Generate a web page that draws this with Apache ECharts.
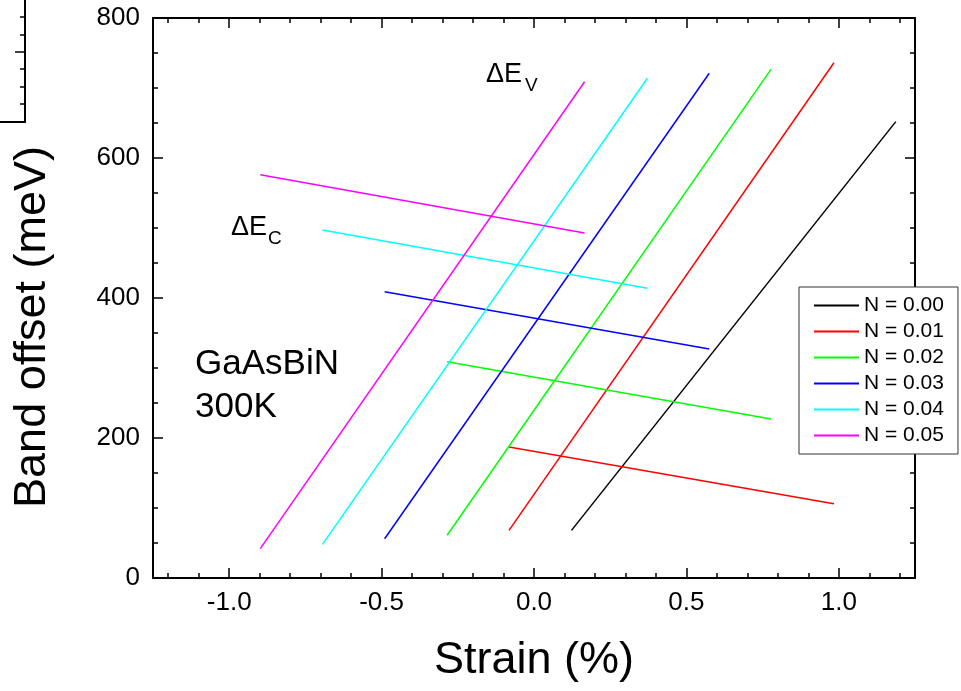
<!DOCTYPE html>
<html>
<head>
<meta charset="utf-8">
<script src="https://cdn.jsdelivr.net/npm/echarts@6/dist/echarts.min.js"></script>
<style>
  html, body { margin: 0; padding: 0; background: #fff; }
  #chart { width: 961px; height: 691px; }
</style>
</head>
<body>
<div id="chart"></div>
<script>
var myChart = echarts.init(document.getElementById('chart'));

// N content of each curve pair
var nLabels = ['N = 0.00', 'N = 0.01', 'N = 0.02', 'N = 0.03', 'N = 0.04', 'N = 0.05'];
var lineColors = ['#000000', '#ff0000', '#00ff00', '#0000ff', '#00ffff', '#ff00ff'];

// strain (%) at both ends of every line
var strainLow = [0.123, -0.082, -0.285, -0.49, -0.694, -0.898];
var strainHigh = [1.187, 0.984, 0.778, 0.575, 0.372, 0.166];

// valence band offset (meV)
var evLow = [68, 68, 61, 56, 48, 42];
var evHigh = [652, 736, 727, 721, 714, 709];

// conduction band offset (meV), no curve for N = 0.00
var ecLow = [null, 187, 309, 409, 497, 576];
var ecHigh = [null, 106, 227, 327, 414, 493];

var FONT = 'Liberation Sans, Arial, sans-serif';
var black = '#000';

var series = [];
for (var i = 0; i < nLabels.length; i++) {
  series.push({
    name: nLabels[i],
    type: 'line',
    symbol: 'none',
    color: lineColors[i],
    lineStyle: { width: 1.5, color: lineColors[i] },
    data: [[strainLow[i], evLow[i]], [strainHigh[i], evHigh[i]]]
  });
  if (ecLow[i] !== null) {
    series.push({
      name: nLabels[i],
      type: 'line',
      symbol: 'none',
      color: lineColors[i],
      lineStyle: { width: 1.5, color: lineColors[i] },
      data: [[strainLow[i], ecLow[i]], [strainHigh[i], ecHigh[i]]]
    });
  }
}

function xAx(pos, minor, main) {
  return {
    type: 'value',
    gridIndex: 0,
    position: pos,
    min: -1.25,
    max: 1.25,
    splitNumber: minor ? 25 : 5,
    axisLine: { show: !minor, onZero: false, lineStyle: { color: black, width: 2 } },
    axisTick: { inside: true, length: minor ? 5 : 10, lineStyle: { color: black, width: 1.5 } },
    axisLabel: main ? {
      showMinLabel: false,
      showMaxLabel: false,
      formatter: function (v) { return v.toFixed(1); },
      fontSize: 26,
      fontFamily: FONT,
      color: black,
      margin: 12
    } : { show: false },
    splitLine: { show: false },
    name: main ? 'Strain (%)' : '',
    nameLocation: 'middle',
    nameGap: 60,
    nameTextStyle: { fontSize: 45, fontFamily: FONT, color: black }
  };
}

function yAx(pos, main) {
  return {
    type: 'value',
    gridIndex: 0,
    position: pos,
    min: 0,
    max: 800,
    interval: 200,
    axisLine: { show: true, onZero: false, lineStyle: { color: black, width: 2 } },
    axisTick: { inside: true, length: 10, lineStyle: { color: black, width: 1.5 } },
    minorTick: { show: true, splitNumber: 4, length: 5, lineStyle: { color: black, width: 1.5 } },
    axisLabel: main ? { fontSize: 26, fontFamily: FONT, color: black, margin: 13 } : { show: false },
    splitLine: { show: false }
  };
}

var option = {
  backgroundColor: '#fff',
  animation: false,
  grid: { left: 153, top: 18, width: 762, height: 560 },
  legend: {
    data: nLabels,
    orient: 'vertical',
    left: 799,
    top: 287,
    padding: [8, 14, 8, 15],
    itemGap: 5,
    itemWidth: 45,
    itemHeight: 2,
    icon: 'rect',
    backgroundColor: '#fff',
    borderColor: '#333',
    borderWidth: 1,
    textStyle: { fontSize: 21, lineHeight: 20, fontFamily: FONT, color: black }
  },
  xAxis: [xAx('bottom', false, true), xAx('bottom', true, false), xAx('top', false, false), xAx('top', true, false)],
  yAxis: [yAx('left', true), yAx('right', false)],
  graphic: [
    { type: 'text', x: 33, y: 327, rotation: Math.PI / 2,
      style: { text: 'Band offset (meV)', fontSize: 45, fontFamily: FONT, fill: black, align: 'center', verticalAlign: 'middle' } },
    { type: 'text', left: 486, top: 61, style: { text: 'ΔE', fontSize: 27, fontFamily: FONT, fill: black } },
    { type: 'text', left: 525, top: 76, style: { text: 'V', fontSize: 19, fontFamily: FONT, fill: black } },
    { type: 'text', left: 231, top: 214, style: { text: 'ΔE', fontSize: 27, fontFamily: FONT, fill: black } },
    { type: 'text', left: 268, top: 229, style: { text: 'C', fontSize: 19, fontFamily: FONT, fill: black } },
    { type: 'text', left: 195, top: 343, style: { text: 'GaAsBiN\n300K', fontSize: 35, lineHeight: 43, fontFamily: FONT, fill: black } },
    // edge of the neighbouring panel, cut off at the top left
    { type: 'line', shape: { x1: 25, y1: 0, x2: 25, y2: 122 }, style: { stroke: black, lineWidth: 2 } },
    { type: 'line', shape: { x1: 0, y1: 122, x2: 26, y2: 122 }, style: { stroke: black, lineWidth: 2 } },
    { type: 'line', shape: { x1: 15, y1: 52, x2: 25, y2: 52 }, style: { stroke: black, lineWidth: 1.5 } },
    { type: 'line', shape: { x1: 20, y1: 17, x2: 25, y2: 17 }, style: { stroke: black, lineWidth: 1.5 } },
    { type: 'line', shape: { x1: 20, y1: 35, x2: 25, y2: 35 }, style: { stroke: black, lineWidth: 1.5 } },
    { type: 'line', shape: { x1: 20, y1: 69, x2: 25, y2: 69 }, style: { stroke: black, lineWidth: 1.5 } },
    { type: 'line', shape: { x1: 20, y1: 87, x2: 25, y2: 87 }, style: { stroke: black, lineWidth: 1.5 } },
    { type: 'line', shape: { x1: 20, y1: 104, x2: 25, y2: 104 }, style: { stroke: black, lineWidth: 1.5 } }
  ],
  series: series
};

myChart.setOption(option);
</script>
</body>
</html>
